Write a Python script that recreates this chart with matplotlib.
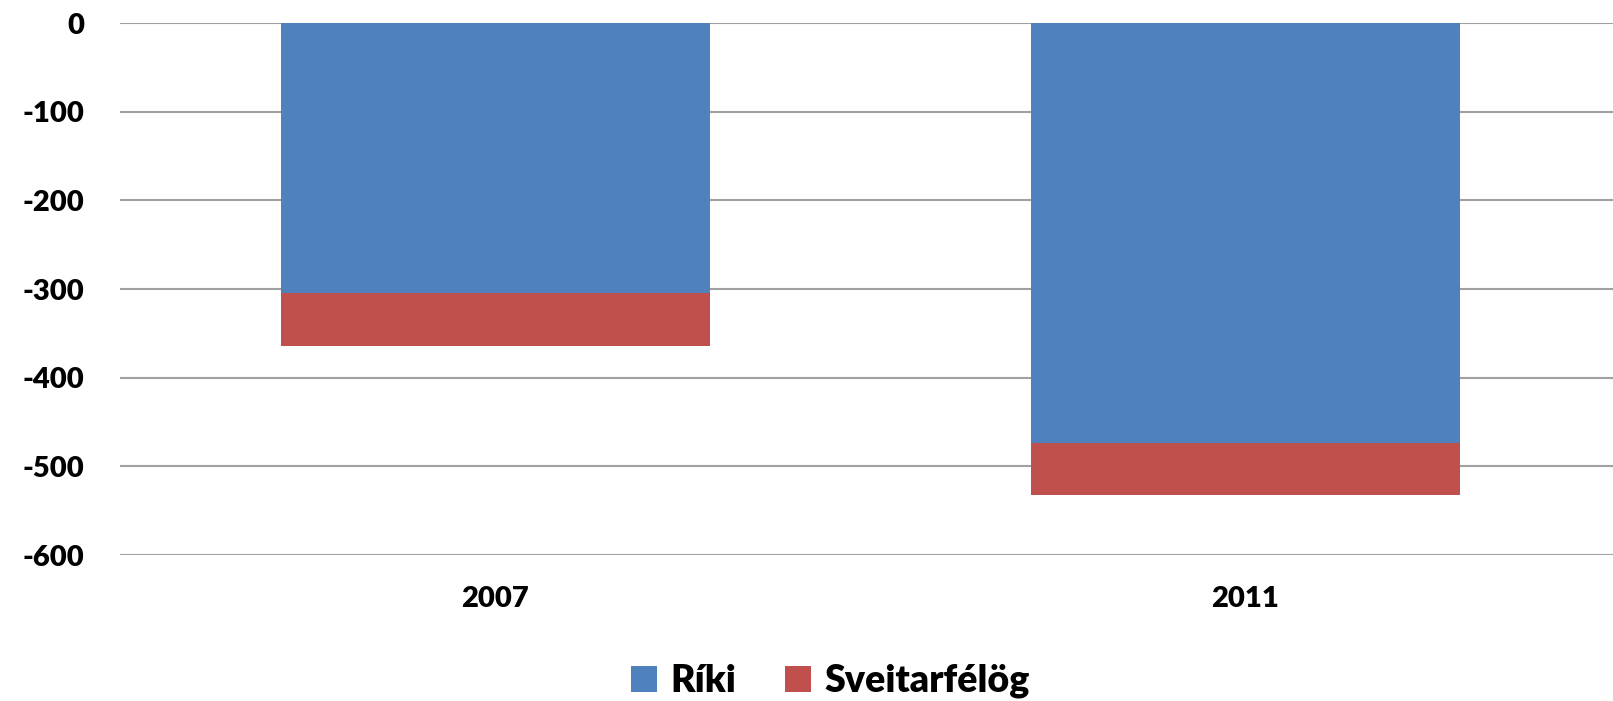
import matplotlib.pyplot as plt
from matplotlib.patches import Patch

# data
years = ["2007", "2011"]
riki = [-305, -474]
sveitarfelog = [-59, -58]
series_names = ["Ríki", "Sveitarfélög"]
colors = ["#4F81BD", "#C0504D"]
yticks = [0, -100, -200, -300, -400, -500, -600]

plt.rcParams['font.family'] = ['Lato', 'DejaVu Sans']
plt.rcParams['font.weight'] = 'heavy'

fig = plt.figure(figsize=(16.13, 7.01), dpi=100)
ax = fig.add_axes([120 / 1613, 146 / 701, 1500 / 1613, 532 / 701])

x = range(len(years))
ax.bar(x, riki, width=0.572, color=colors[0], zorder=3)
ax.bar(x, sveitarfelog, width=0.572, bottom=riki, color=colors[1], zorder=3)

ax.set_xlim(-0.5, 1.5)
ax.set_ylim(-600, 0)
ax.set_yticks(yticks)
ax.set_yticklabels([str(v) for v in yticks], fontsize=21, fontweight='heavy')
ax.set_xticks(list(x))
ax.set_xticklabels(years, fontsize=21, fontweight='heavy')
ax.tick_params(axis='both', length=0)
ax.tick_params(axis='y', pad=26)
ax.tick_params(axis='x', pad=22)

ax.grid(axis='y', color='#A0A0A0', linewidth=1.5, zorder=0)
for s in ax.spines.values():
    s.set_visible(False)

handles = [Patch(facecolor=c) for c in colors]
fig.legend(handles, series_names, loc='center', bbox_to_anchor=(830 / 1613, 20 / 701),
           ncol=2, frameon=False, handlelength=0.7, handleheight=0.7,
           handletextpad=0.35, columnspacing=1.3, prop={'weight': 'heavy', 'size': 27})

fig.savefig("out.png", dpi=100)
